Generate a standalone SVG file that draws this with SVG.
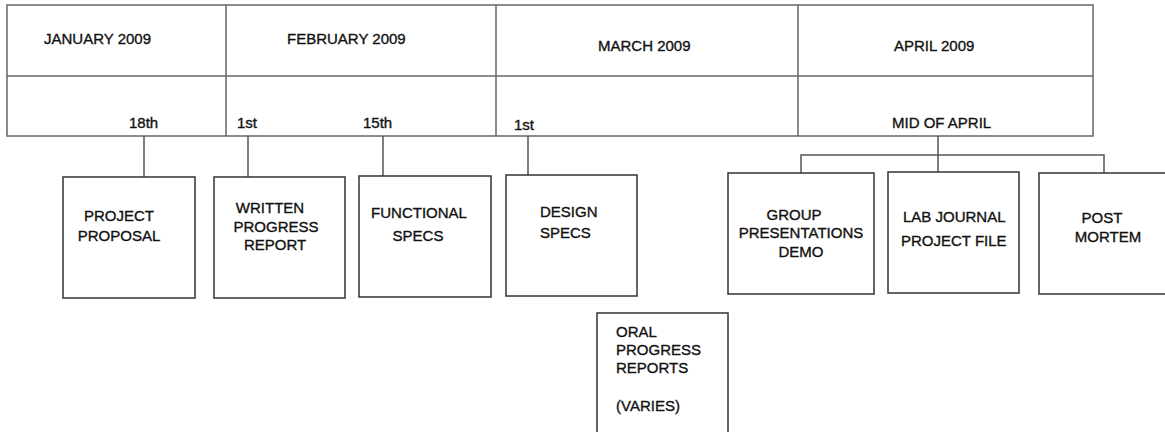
<svg xmlns="http://www.w3.org/2000/svg" width="1165" height="432" viewBox="0 0 1165 432">
<style>
text{font-family:"Liberation Sans",Arial,sans-serif;font-size:15px;fill:#111;stroke:#111;stroke-width:0.35}
.m{text-anchor:middle}
.grid{fill:none;stroke:#666;stroke-width:1.5}
.box{fill:#fff;stroke:#333;stroke-width:1.5}
.con{fill:none;stroke:#555;stroke-width:1.5}
</style>
<rect width="1165" height="432" fill="#fff"/>
<g id="timeline">
<rect class="grid" x="7" y="5" width="1086" height="131"/>
<line class="grid" x1="7" y1="76" x2="1093" y2="76"/>
<line class="grid" x1="226" y1="5" x2="226" y2="136"/>
<line class="grid" x1="496" y1="5" x2="496" y2="136"/>
<line class="grid" x1="798" y1="5" x2="798" y2="136"/>
<text x="44" y="44">JANUARY 2009</text>
<text x="287" y="44">FEBRUARY 2009</text>
<text x="598" y="51">MARCH 2009</text>
<text x="894" y="51">APRIL 2009</text>
<text x="129" y="128">18th</text>
<text x="237" y="128">1st</text>
<text x="363" y="128">15th</text>
<text x="514" y="130">1st</text>
<text x="892" y="128">MID OF APRIL</text>
</g>
<g id="connectors">
<line class="con" x1="144" y1="136" x2="144" y2="177"/>
<line class="con" x1="248" y1="136" x2="248" y2="177"/>
<line class="con" x1="383" y1="136" x2="383" y2="176"/>
<line class="con" x1="528" y1="136" x2="528" y2="175"/>
<line class="con" x1="938" y1="136" x2="938" y2="172"/>
<polyline class="con" points="801,173 801,155 1104,155 1104,173"/>
</g>
<g id="project-proposal">
<rect class="box" x="63" y="177" width="132" height="121"/>
<text class="m" x="119" y="221">PROJECT</text>
<text class="m" x="119" y="241">PROPOSAL</text>
</g>
<g id="written-progress-report">
<rect class="box" x="214" y="177" width="131" height="121"/>
<text class="m" x="270" y="213">WRITTEN</text>
<text class="m" x="276" y="232">PROGRESS</text>
<text class="m" x="275" y="250">REPORT</text>
</g>
<g id="functional-specs">
<rect class="box" x="359" y="176" width="132" height="121"/>
<text class="m" x="419" y="218">FUNCTIONAL</text>
<text class="m" x="418" y="241">SPECS</text>
</g>
<g id="design-specs">
<rect class="box" x="506" y="175" width="131" height="121"/>
<text x="540" y="217">DESIGN</text>
<text x="540" y="238">SPECS</text>
</g>
<g id="oral-progress-reports">
<path class="box" d="M597,433 V313 H728 V433"/>
<text x="616" y="337">ORAL</text>
<text x="616" y="355">PROGRESS</text>
<text x="616" y="373">REPORTS</text>
<text x="616" y="411">(VARIES)</text>
</g>
<g id="group-presentations-demo">
<rect class="box" x="728" y="173" width="146" height="121"/>
<text class="m" x="794" y="220">GROUP</text>
<text class="m" x="801" y="238">PRESENTATIONS</text>
<text class="m" x="801" y="257">DEMO</text>
</g>
<g id="lab-journal-project-file">
<rect class="box" x="888" y="172" width="131" height="121"/>
<text x="903" y="222">LAB JOURNAL</text>
<text x="901" y="246">PROJECT FILE</text>
</g>
<g id="post-mortem">
<rect class="box" x="1039" y="173" width="140" height="121"/>
<text class="m" x="1102" y="223">POST</text>
<text class="m" x="1108" y="242">MORTEM</text>
</g>
</svg>
